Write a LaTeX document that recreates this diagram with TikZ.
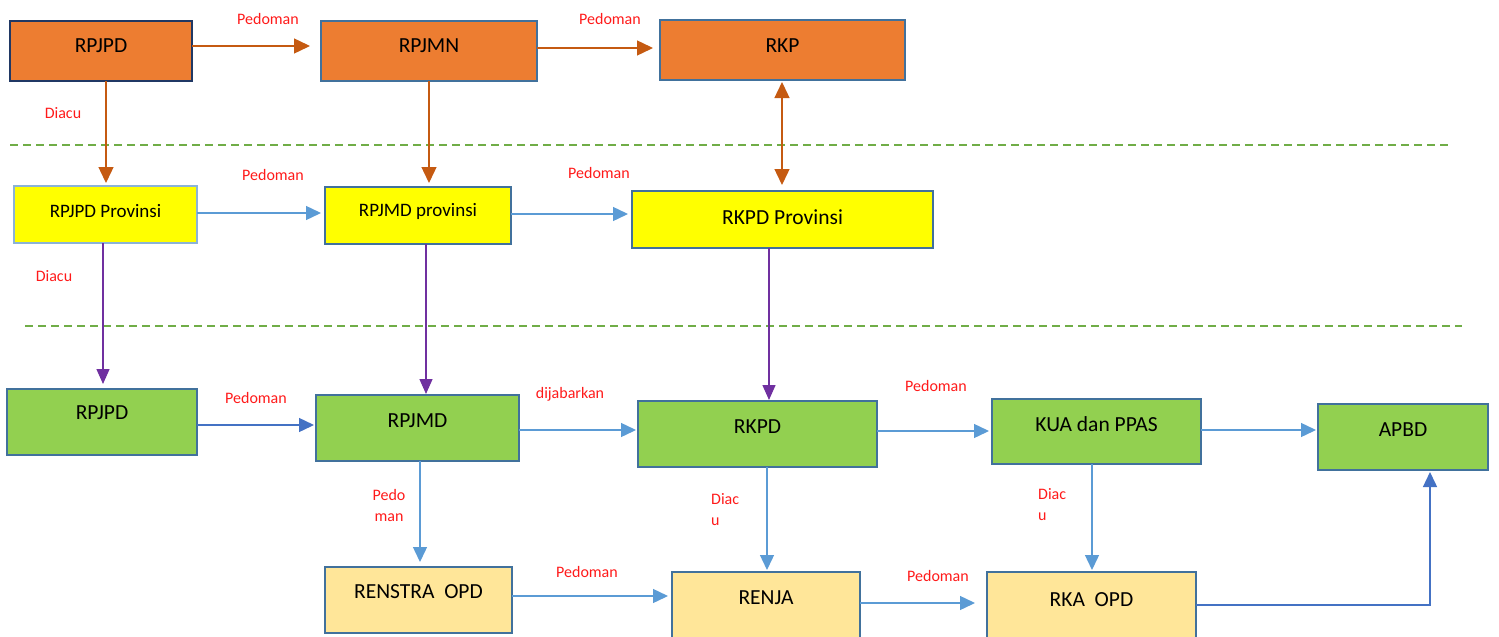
\documentclass[tikz,border=0pt]{standalone}
\usepackage{fontspec}
\setmainfont{Carlito}
\usetikzlibrary{arrows.meta}
\definecolor{orfill}{HTML}{ED7D31}
\definecolor{orline}{HTML}{C55A11}
\definecolor{navy}{HTML}{203864}
\definecolor{steel}{HTML}{41719C}
\definecolor{ltblue}{HTML}{9DC3E6}
\definecolor{yel}{HTML}{FFFF00}
\definecolor{grn}{HTML}{92D050}
\definecolor{ltyel}{HTML}{FFE699}
\definecolor{barrow}{HTML}{5B9BD5}
\definecolor{darrow}{HTML}{4472C4}
\definecolor{purp}{HTML}{7030A0}
\definecolor{dashg}{HTML}{70AD47}
\definecolor{lbl}{HTML}{FF1A1A}
\begin{document}
\begin{tikzpicture}[x=1pt,y=-1pt,
  box/.style={draw=steel,line width=2.4pt,inner sep=0pt,outer sep=0pt},
  obox/.style={box,fill=orfill},
  ybox/.style={box,fill=yel},
  gbox/.style={box,fill=grn},
  lbox/.style={box,fill=ltyel},
  btxt/.style={font=\fontsize{21.5}{24}\selectfont,text=black},
  ytxt/.style={font=\fontsize{19}{21}\selectfont,text=black},
  lab/.style={font=\fontsize{16}{21}\selectfont,text=lbl,inner sep=0pt},
  oarr/.style={draw=orline,line width=1.4pt,-{Triangle[length=16pt,width=15pt]}},
  barr/.style={draw=barrow,line width=1.4pt,-{Triangle[length=15pt,width=14pt]}},
  darr/.style={draw=darrow,line width=1.4pt,-{Triangle[length=15pt,width=14pt]}},
  parr/.style={draw=purp,line width=1.4pt,-{Triangle[length=15pt,width=13pt]}},
  dline/.style={draw=dashg,line width=1.5pt,dash pattern=on 8pt off 5pt}
]
\useasboundingbox (0,0) rectangle (1499,637);

% top row
\node[obox,draw=navy,minimum width=182,minimum height=60,label={[btxt,yshift=5]center:RPJPD}] (a1) at (101,51) {};
\node[obox,minimum width=216,minimum height=60,label={[btxt,yshift=5]center:RPJMN}] (a2) at (429,51) {};
\node[obox,minimum width=245,minimum height=60,label={[btxt,yshift=4]center:RKP}] (a3) at (782.5,50) {};

% province row
\node[ybox,draw=ltblue!80!steel,line width=1.8pt,minimum width=183,minimum height=57,label={[ytxt,yshift=3.5]center:RPJPD Provinsi}] (b1) at (105.5,214.5) {};
\node[ybox,minimum width=186,minimum height=57,label={[ytxt,yshift=4.5]center:RPJMD provinsi}] (b2) at (418,215.5) {};
\node[ybox,minimum width=301,minimum height=57,label={[btxt,yshift=2.5]center:RKPD Provinsi}] (b3) at (782.5,219.5) {};

% green row
\node[gbox,minimum width=190,minimum height=66,label={[btxt,yshift=9]center:RPJPD}] (c1) at (102,422) {};
\node[gbox,minimum width=203,minimum height=66,label={[btxt,yshift=7]center:RPJMD}] (c2) at (417.5,428) {};
\node[gbox,minimum width=239,minimum height=66,label={[btxt,yshift=7]center:RKPD}] (c3) at (757.5,434) {};
\node[gbox,minimum width=209,minimum height=65,label={[btxt,yshift=7.5]center:KUA dan PPAS}] (c4) at (1096.5,431.5) {};
\node[gbox,minimum width=170,minimum height=66,label={[btxt,yshift=7]center:APBD}] (c5) at (1403,437) {};

% bottom row
\node[lbox,minimum width=187,minimum height=66,label={[btxt,yshift=8]center:RENSTRA\ \ OPD}] (d1) at (418.5,600) {};
\node[lbox,minimum width=188,minimum height=66,label={[btxt,yshift=7]center:RENJA}] (d2) at (766,605) {};
\node[lbox,minimum width=209,minimum height=66,label={[btxt,yshift=5]center:RKA\ \ OPD}] (d3) at (1091.5,605) {};

% dashed separators
\coordinate (s1a) at (10,145); \coordinate (s1b) at (1450,145);
\coordinate (s2a) at (25,326); \coordinate (s2b) at (1462,326);
\draw[dline] (s1a) -- (s1b);
\draw[dline] (s2a) -- (s2b);

% top arrows
\draw[oarr,shorten >=11pt] (a1.east |- 0,46) -- (a2.west |- 0,46);
\draw[oarr,shorten >=7pt] (a2.east |- 0,48) -- (a3.west |- 0,48);
\draw[oarr,shorten >=3pt] (a1.south -| 106,0) -- (b1.north -| 106,0);
\draw[oarr,shorten >=4pt] (a2.south -| 429,0) -- (b2.north -| 429,0);
\draw[oarr,{Triangle[length=16pt,width=15pt]}-{Triangle[length=16pt,width=15pt]},shorten <=2pt,shorten >=6pt] (a3.south -| 782,0) -- (b3.north -| 782,0);

% province arrows
\draw[barr,shorten >=4pt] (b1.east |- 0,213) -- (b2.west |- 0,213);
\draw[barr,shorten >=4pt] (b2.east |- 0,214) -- (b3.west |- 0,214);
\draw[parr,shorten >=5pt] (b1.south -| 103,0) -- (c1.north -| 103,0);
\draw[parr,shorten >=1pt] (b2.south -| 426,0) -- (c2.north -| 426,0);
\draw[parr,shorten >=1pt] (b3.south -| 769,0) -- (c3.north -| 769,0);

% green row arrows
\draw[darr,shorten >=2pt] (c1.east |- 0,425) -- (c2.west |- 0,425);
\draw[barr,shorten >=2pt] (c2.east |- 0,430) -- (c3.west |- 0,430);
\draw[barr,shorten >=3pt] (c3.east |- 0,431) -- (c4.west |- 0,431);
\draw[barr,shorten >=2pt] (c4.east |- 0,430) -- (c5.west |- 0,430);
\draw[barr,shorten >=5pt] (c2.south -| 420,0) -- (d1.north -| 420,0);
\draw[barr,shorten >=2pt] (c3.south -| 767,0) -- (d2.north -| 767,0);
\draw[barr,shorten >=2pt] (c4.south -| 1092,0) -- (d3.north -| 1092,0);

% bottom arrows
\draw[barr,shorten >=4pt] (d1.east |- 0,596) -- (d2.west |- 0,596);
\draw[barr,shorten >=12pt] (d2.east |- 0,603) -- (d3.west |- 0,603);
\draw[darr,shorten >=2pt] (d3.east |- 0,605) -| (c5.south -| 1430,0);

% labels
\node[lab] (l1) at (268,19) {Pedoman};
\node[lab] (l2) at (610,19) {Pedoman};
\node[lab] (l3) at (63,113) {Diacu};
\node[lab] (l4) at (273,175) {Pedoman};
\node[lab] (l5) at (599,173) {Pedoman};
\node[lab] (l6) at (54,276) {Diacu};
\node[lab] (l7) at (256,398) {Pedoman};
\node[lab] (l8) at (570,394) {dijabarkan};
\node[lab] (l9) at (936,386) {Pedoman};
\node[lab,align=center] (l10) at (389,505.5) {Pedo\\man};
\node[lab,align=left,anchor=west] (l11) at (711,509.5) {Diac\\u};
\node[lab,align=left,anchor=west] (l12) at (1038,504.5) {Diac\\u};
\node[lab] (l13) at (587,572) {Pedoman};
\node[lab] (l14) at (938,576) {Pedoman};
\end{tikzpicture}
\end{document}
